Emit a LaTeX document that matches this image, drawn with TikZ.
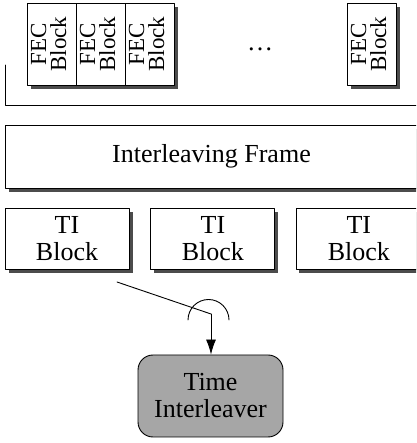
\documentclass[tikz,border=0pt]{standalone}
\usepackage{fontspec}
\setmainfont{Liberation Serif}
\usetikzlibrary{positioning}
\usetikzlibrary{arrows.meta}
\tikzstyle{every node}=[font=\fontsize{26}{27}\selectfont]
\tikzstyle{blk}=[draw,fill=white,inner sep=0pt,align=center]
\tikzstyle{shdbox}=[fill=black!70,inner sep=0pt]
\tikzstyle{fec}=[blk,minimum width=49pt,minimum height=82pt,
  font=\fontsize{23}{23}\selectfont]
\tikzstyle{ti}=[blk,minimum width=124pt,minimum height=61pt]
\newcommand{\fectext}{\rotatebox{90}{\begin{tabular}{@{}c@{}}FEC\\[-3pt]Block\end{tabular}}}

\begin{document}
\begin{tikzpicture}[x=1pt,y=1pt,line width=0.9pt,line cap=round,line join=round]
  \useasboundingbox (0,0) rectangle (416,443);
  \clip (0,0) rectangle (416,443);
  % drop shadows, 4pt right and down
  \node[shdbox,minimum width=147pt,minimum height=82pt] (shfec) at (104.5,395) {};
  \node[shdbox,minimum width=49pt,minimum height=82pt] (shfecn) at (375.5,395) {};
  \node[shdbox,minimum width=413pt,minimum height=63pt] (shframe) at (215.5,282.5) {};
  \node[shdbox,minimum width=124pt,minimum height=61pt] (shti1) at (71,200.5) {};
  \node[shdbox,minimum width=124pt,minimum height=61pt] (shti2) at (216,200.5) {};
  \node[shdbox,minimum width=124pt,minimum height=61pt] (shti3) at (361,200.5) {};
  % FEC blocks
  \node[fec] (fec1) at (51.5,399) {\fectext};
  \node[fec] (fec2) at (100.5,399) {\fectext};
  \node[fec] (fec3) at (149.5,399) {\fectext};
  \node (dots) at (260,394) {\dots};
  \node[fec] (fecn) at (371.5,399) {\fectext};
  % bracket under the FEC blocks
  \coordinate (bra) at (5,378);
  \coordinate (brb) at (5,338);
  \coordinate (brc) at (420,338);
  \draw (bra)--(brb)--(brc);
  %
  \node[blk,minimum width=413pt,minimum height=63pt] (frame) at (211.5,286.5)
    {Interleaving Frame};
  %
  \node[ti] (ti1) at (67,204.5) {TI\\Block};
  \node[ti,right=21pt of ti1] (ti2) {TI\\Block};
  \node[ti,right=21pt of ti2] (ti3) {TI\\Block};
  %
  \node[draw,fill=black!35,rounded corners=15pt,minimum width=145pt,
    minimum height=82pt,align=center,inner sep=0pt] (til) at (210.5,47)
    {Time\\Interleaver};
  % switch
  \coordinate (swa) at (117,161);
  \coordinate (swb) at (211,129);
  \draw (swa)--(swb);
  \draw[-{Latex[length=15pt,width=10pt]}] (swb)--(til.north-|swb);
  \draw (188,123) arc (180:0:20.5);
\end{tikzpicture}
\end{document}
